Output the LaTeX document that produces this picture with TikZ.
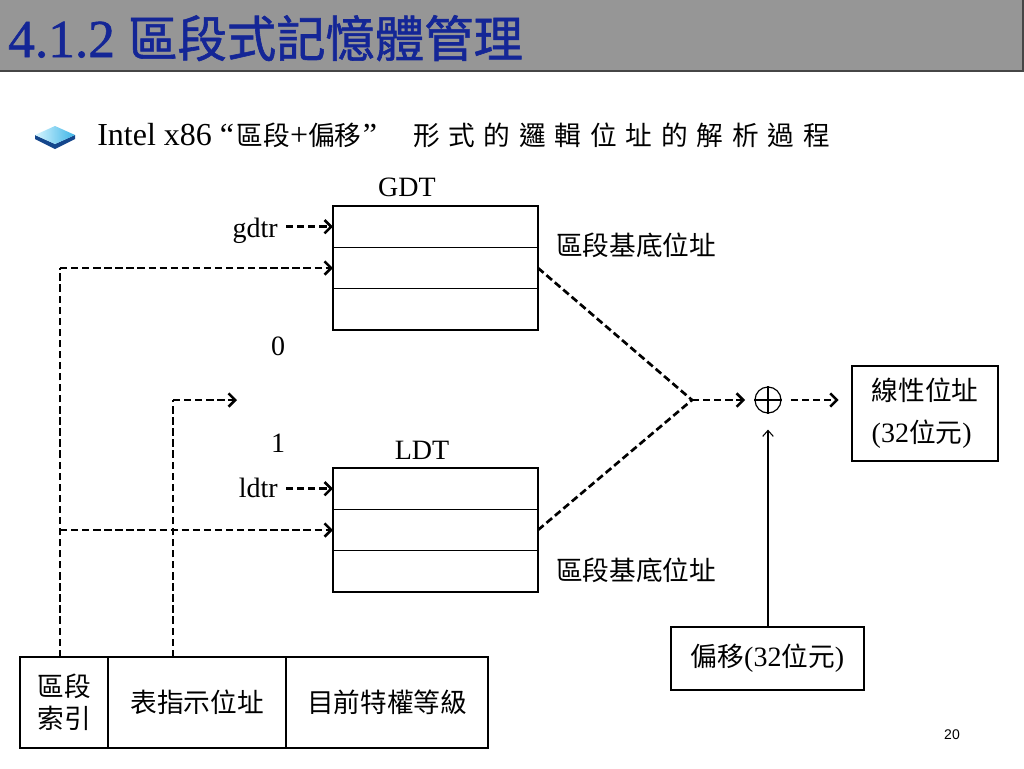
\documentclass[tikz,border=0pt]{standalone}
\usepackage{fontspec}
\setmainfont{Liberation Serif}
\newfontfamily\cjk{Noto Sans CJK TC}
\newfontfamily\cjksp[LetterSpace=33]{Noto Sans CJK TC}
\newfontfamily\titlelat[FakeBold=1.2]{Liberation Serif}
\newfontfamily\titlecjk[FakeBold=1.2]{Noto Sans CJK TC}
\newfontfamily\arialf{Liberation Sans}
\usetikzlibrary{arrows.meta}
\definecolor{titlegray}{RGB}{150,150,150}
\definecolor{titleedge}{RGB}{70,70,70}
\definecolor{titleblue}{RGB}{20,38,150}
\definecolor{tilelight}{RGB}{215,245,255}
\definecolor{tilemid}{RGB}{60,180,230}
\definecolor{tiledark}{RGB}{20,70,140}
\begin{document}
\begin{tikzpicture}[x=0.75pt,y=-0.75pt,
  lbl/.style={font=\fontsize{21}{25}\selectfont, inner sep=0pt},
  cjklbl/.style={font=\cjk\fontsize{20}{25}\selectfont, inner sep=0pt},
  cell/.style={draw, line width=0.9pt, inner sep=0pt, outer sep=0pt,
    minimum width=153.75pt, minimum height=31pt},
  tcell/.style={draw, line width=0.9pt, inner sep=0pt, outer sep=0pt,
    minimum height=68.25pt, font=\cjk\fontsize{20}{24}\selectfont, align=center},
  obox/.style={draw, line width=0.9pt, inner sep=0pt, outer sep=0pt},
  dline/.style={line width=2pt, dash pattern=on 5.5pt off 2.8pt},
  darr/.style={dline, -{Straight Barb[length=5pt,width=10pt,line width=1.9pt]}},
  sarr/.style={line width=0.8pt, -{Straight Barb[length=4.5pt,width=8pt,line width=0.8pt]}}]
\useasboundingbox (0,0) rectangle (1024,768);
\fill[white] (0,0) rectangle (1024,768);
% title bar
\fill[titlegray] (0,0) rectangle (1024,71);
\draw[titleedge, line width=1.5pt] (0,71) -- (1024,71);
\draw[titleedge, line width=1pt] (1023,0) -- (1023,71);
\node[anchor=base west, inner sep=0pt, text=titleblue] (title) at (8,57)
  {\titlelat\fontsize{40}{44}\selectfont 4.1.2 {\titlecjk\fontsize{37}{44}\selectfont 區段式記憶體管理}};
% bullet tile
\fill[tiledark] (35,135) -- (55,144) -- (75,135) -- (75,139) -- (55,149) -- (35,139) -- cycle;
\shade[left color=tilelight, right color=tilemid] (35,135) -- (55,126) -- (75,135) -- (55,144) -- cycle;
% heading text
\node[anchor=base west, inner sep=0pt] (head) at (97,145)
  {\fontsize{24}{28}\selectfont Intel x86 “\hspace{2pt}{\cjk\fontsize{20}{28}\selectfont 區段}+{\cjk\fontsize{20}{28}\selectfont 偏移}\hspace{1pt}”\hspace{27pt}{\cjksp\fontsize{20}{28}\selectfont 形式的邏輯位址的解析過程}};
% GDT
\node[lbl] (gdtlbl) at (407,187) {GDT};
\node[cell] (g1) at (435.5,226.67) {};
\node[cell] (g2) at (435.5,268) {};
\node[cell] (g3) at (435.5,309.33) {};
\node[lbl, anchor=base east] (gdtr) at (278,237) {gdtr};
\node[cjklbl] (gbase) at (636,245) {區段基底位址};
% LDT
\node[lbl] (ldtlbl) at (422,450) {LDT};
\node[cell] (l1) at (435.5,488.67) {};
\node[cell] (l2) at (435.5,530) {};
\node[cell] (l3) at (435.5,571.33) {};
\node[lbl, anchor=base east] (ldtr) at (278,497) {ldtr};
\node[cjklbl] (lbase) at (636,570) {區段基底位址};
% 0 / 1
\node[lbl] (zero) at (278,346) {0};
\node[lbl] (one) at (278,443) {1};
% selector table
\node[tcell, minimum width=66pt] (c1) at (64,702.5) {區段\\索引};
\node[tcell, minimum width=133.5pt] (c2) at (197,702.5) {表指示位址};
\node[tcell, minimum width=151.5pt] (c3) at (387,702.5) {目前特權等級};
% adder and outputs
\node[circle, draw, line width=0.9pt, minimum size=19.5pt, inner sep=0pt] (plus) at (768,400) {};
\draw[line width=0.9pt] (plus.north) -- (plus.south);
\draw[line width=0.9pt] (plus.west) -- (plus.east);
\node[obox, minimum width=109.5pt, minimum height=71.25pt, align=left,
  font=\fontsize{21}{31.5}\selectfont] (lin) at (925,413.5)
  {{\cjk\fontsize{20}{31.5}\selectfont 線性位址}\\(32{\cjk\fontsize{20}{31.5}\selectfont 位元})};
\node[obox, minimum width=144.75pt, minimum height=47.25pt,
  font=\fontsize{21}{25}\selectfont] (off) at (767.5,658.5)
  {{\cjk\fontsize{20}{25}\selectfont 偏移}(32{\cjk\fontsize{20}{25}\selectfont 位元})};
% coordinates
\coordinate (sa) at (60,268);
\coordinate (sb) at (60,530);
\coordinate (ta) at (173,400);
\coordinate (tb) at (237,400);
\coordinate (join) at (692,400);
% connectors
\draw[darr, shorten <=6pt] (gdtr.east |- g1.west) -- (g1.west);
\draw[darr, shorten <=6pt] (ldtr.east |- l1.west) -- (l1.west);
\draw[dline] (c1.north -| sa) -- (sa);
\draw[darr] (sa) -- (g2.west);
\draw[darr] (sb) -- (l2.west);
\draw[dline] (c2.north -| ta) -- (ta);
\draw[darr] (ta) -- (tb);
\draw[dline] (g2.east) -- (join);
\draw[dline] (l2.east) -- (join);
\draw[darr, shorten >=7pt] (join) -- (plus.west);
\draw[darr, shorten <=7pt, shorten >=10pt] (plus.east) -- (lin.west |- plus.east);
\draw[sarr, shorten >=12pt] (off.north -| plus.south) -- (plus.south);
% page number
\node[inner sep=0pt, font=\arialf\fontsize{10.5}{12}\selectfont] (pnum) at (952,735) {20};
\end{tikzpicture}
\end{document}
